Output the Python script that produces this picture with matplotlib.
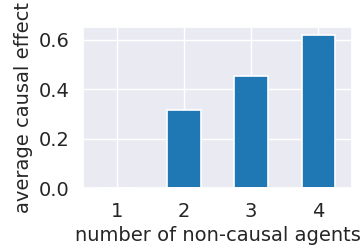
import matplotlib
matplotlib.use("Agg")
import matplotlib.pyplot as plt
import seaborn as sns

# datos del gráfico
agentes = ["1", "2", "3", "4"]
efecto = [0.002, 0.318, 0.455, 0.62]

sns.set_theme(style="darkgrid")
plt.rcParams["font.family"] = ["DejaVu Sans"]

fig, ax = plt.subplots(figsize=(3.61, 2.48), dpi=100)
ax.bar(range(len(agentes)), efecto, width=0.5, color="#1f77b4",
       edgecolor="white", linewidth=1.2, zorder=2)
ax.set_xticks(range(len(agentes)))
ax.set_xticklabels(agentes)
ax.set_xlim(-0.5, len(agentes) - 0.5)
ax.set_ylim(0, 0.651)
ax.set_yticks([0.0, 0.2, 0.4, 0.6])
ax.tick_params(labelsize=14)
ax.set_xlabel("number of non-causal agents", fontsize=14)
ax.set_ylabel("average causal effect", fontsize=14)

fig.subplots_adjust(left=0.23, right=0.975, bottom=0.24, top=0.89)
fig.savefig("out.png", dpi=100)
